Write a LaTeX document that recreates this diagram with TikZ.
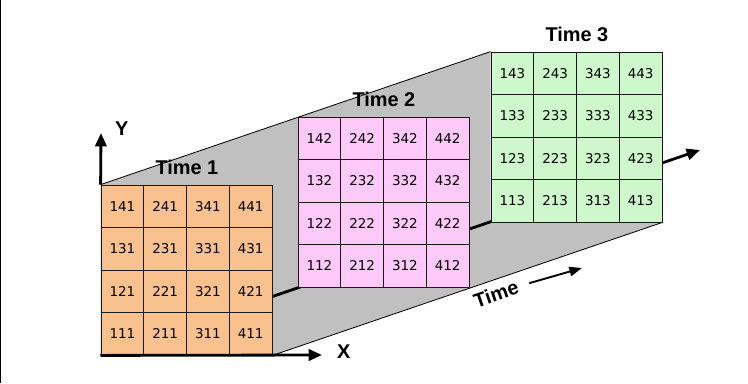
\documentclass[tikz,border=0pt]{standalone}
\usepackage{fontspec}
\setmainfont{Liberation Sans}
\newfontfamily\numfont{DejaVu Sans}
\usetikzlibrary{arrows.meta,positioning,backgrounds}
\definecolor{orangecell}{HTML}{F9C18E}
\definecolor{pinkcell}{HTML}{FDC9F9}
\definecolor{greencell}{HTML}{CEF8CC}
\definecolor{wallgray}{HTML}{C0C0C0}

\begin{document}
\begin{tikzpicture}[x=0.03cm,y=-0.03cm,>={Triangle[length=0.4cm,width=0.34cm]},
  cell/.style={draw=black!90,line width=0.7pt,minimum width=1.2825cm,minimum height=1.275cm,
    inner sep=0pt,font=\numfont\fontsize{11.5}{13}\selectfont},
  title/.style={inner sep=0pt,font=\bfseries\fontsize{17}{20}\selectfont},
  axis/.style={->,line width=2.4pt},
  edge line/.style={line width=0.7pt}]

  \useasboundingbox (0,0) rectangle (748,383);
  \draw[line width=0.8pt] (0.5,0) -- (0.5,383);

  % one 4x4 grid of cells per time step
  \foreach \t/\ox/\oy/\col in {1/101/355/orangecell,2/298/287/pinkcell,3/491/222/greencell}
    \foreach \i in {1,...,4}
      \foreach \j in {1,...,4}
        \node[cell,fill=\col] (c\i\j\t) at ({\ox+(\i-0.5)*42.75},{\oy-(\j-0.5)*42.5}) {\i\j\t};

  \node[title,above=0.3cm of c241.north east] (time1) {Time 1};
  \node[title,above=0.3cm of c242.north east] (time2) {Time 2};
  \node[title,above=0.3cm of c243.north east] (time3) {Time 3};

  \coordinate (ytip) at (101,133);
  \coordinate (xtip) at (322,355);
  \coordinate (ttip) at (700,150);
  \coordinate (tend) at (582,268);

  \node[title,right=0.42cm of ytip,yshift=0.12cm] (ylbl) {Y};
  \node[title,right=0.45cm of xtip,yshift=0.1cm] (xlbl) {X};
  \node[title,rotate=19] (tlbl) at (496,294) {Time};

  \begin{scope}[on background layer]
    \fill[wallgray] (c141.north west) -- (c143.north west) -- (c113.south west) -- (c111.south west) -- cycle;
    \fill[wallgray] (c111.south west) -- (c411.south east) -- (c413.south east) -- (c113.south west) -- cycle;
    \draw[edge line] (c141.north west) -- (c143.north west);
    \draw[edge line] (c411.south east) -- (c413.south east);
    \draw[axis] (c111.south west) -- (ttip);
  \end{scope}

  \draw[axis] (c141.north west) -- (ytip);
  \draw[axis] (c111.south west) -- (xtip);
  \draw[->,line width=1.6pt,>={Triangle[length=0.38cm,width=0.28cm]},shorten <=0.35cm] (tlbl.east) -- (tend);

\end{tikzpicture}
\end{document}
